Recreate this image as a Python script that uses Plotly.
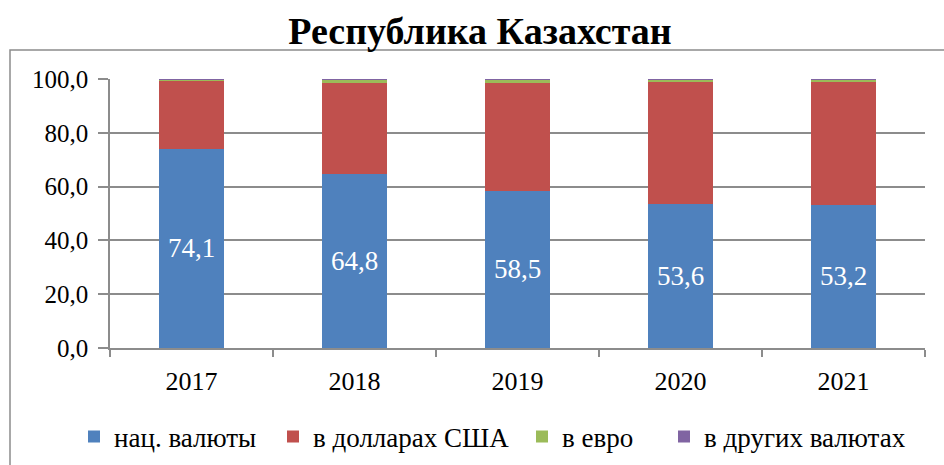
import plotly.graph_objects as go

years = ["2017", "2018", "2019", "2020", "2021"]
national = [74.1, 64.8, 58.5, 53.6, 53.2]
usd = [25.3, 33.8, 40.1, 45.2, 45.8]
eur = [0.5, 1.3, 1.3, 1.0, 0.8]
other = [0.1, 0.1, 0.1, 0.2, 0.2]
y_ticks = [0, 20, 40, 60, 80, 100]

series_names = ["нац. валюты", "в долларах США", "в евро", "в других валютах"]
colors = ["#4F81BD", "#C0504D", "#9BBB59", "#8064A2"]
legend_ids = ["legend", "legend2", "legend3", "legend4"]

font_family = "Liberation Serif"
grey = "#8C8C8C"

fig = go.Figure()
for name, vals, col, lg in zip(series_names, [national, usd, eur, other], colors, legend_ids):
    show_text = name == series_names[0]
    fig.add_trace(go.Bar(
        x=years, y=vals, name=name, legend=lg, showlegend=True,
        marker=dict(color=col, line=dict(width=0)),
        texttemplate="%{y:.1f}" if show_text else None,
        textposition="inside" if show_text else "none",
        insidetextanchor="middle",
        textfont=dict(family=font_family, size=27, color="white"),
        hoverinfo="skip",
    ))

W, H = 944, 465
ml, mr, mt, mb = 110, 19, 79, 117
pw, ph = W - ml - mr, H - mt - mb

def px_x(x):
    return (x - ml) / pw

def px_y(y):
    return (H - mb - y) / ph

# left pixel of each legend entry's text in the reference
legend_text_px = [110, 309, 558, 700]
legends = {}
for lg, tx in zip(legend_ids, legend_text_px):
    legends[lg] = dict(
        orientation="h",
        xref="container", yref="container",
        x=(tx - 36) / W, xanchor="left",
        y=1 - 437 / H, yanchor="middle",
        font=dict(family=font_family, size=27, color="black"),
        itemwidth=30,
        bgcolor="rgba(0,0,0,0)",
        borderwidth=0,
        visible=True,
    )

fig.update_layout(
    width=W, height=H,
    showlegend=True,
    barmode="stack",
    bargap=0.6,
    separators=", ",
    plot_bgcolor="white",
    paper_bgcolor="white",
    margin=dict(l=ml, r=mr, t=mt, b=mb, autoexpand=False),
    font=dict(family=font_family, color="black"),
    title=dict(
        text="<b>Республика Казахстан</b>",
        font=dict(family=font_family, size=38, color="black"),
        x=480 / W, xanchor="center",
        y=1 - 31 / H, yanchor="middle",
    ),
    xaxis=dict(
        showline=True, linecolor=grey, linewidth=1.5,
        ticks="outside", ticklen=7, tickcolor=grey, tickwidth=1.5,
        tickson="boundaries",
        tickfont=dict(family=font_family, size=26, color="black"),
        ticklabelstandoff=9,
        showgrid=False,
    ),
    yaxis=dict(
        range=[0, 100],
        tickvals=y_ticks,
        tickformat=".1f",
        showline=True, linecolor=grey, linewidth=1.5,
        ticks="outside", ticklen=10, tickcolor=grey, tickwidth=1.5,
        tickfont=dict(family=font_family, size=25, color="black"),
        showgrid=True, gridcolor=grey, gridwidth=1.5,
        zeroline=False,
        ticklabelstandoff=5,
    ),
    shapes=[
        dict(type="rect", xref="paper", yref="paper",
             x0=px_x(10), x1=px_x(960), y0=px_y(50), y1=px_y(480),
             line=dict(color=grey, width=1.5), fillcolor="rgba(0,0,0,0)"),
    ],
    **legends,
)

fig.write_html(
    "out.html",
    config={"displayModeBar": False},
    post_script="document.body.style.margin='0';document.body.style.overflow='hidden';",
)
